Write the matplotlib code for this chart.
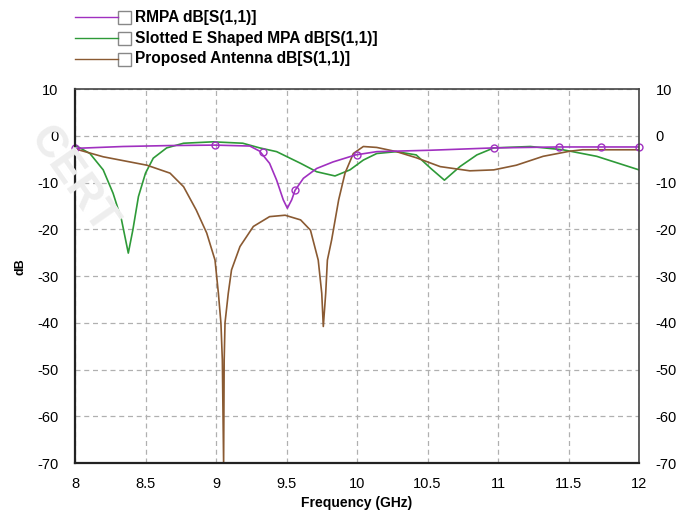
import matplotlib
matplotlib.use("Agg")
import matplotlib.pyplot as plt
from matplotlib.lines import Line2D
from matplotlib.patches import Rectangle

# ---------------------------------------------------------------------------
# data (frequency in GHz, return loss in dB)
# ---------------------------------------------------------------------------
rmpa_f = [8.0, 8.34, 8.67, 8.99, 9.24, 9.31, 9.38, 9.43, 9.477, 9.506, 9.537,
          9.56, 9.62, 9.714, 9.83, 9.99, 10.14, 10.52, 10.97, 11.43, 11.73, 12.0]
rmpa_db = [-2.7, -2.3, -2.1, -2.0, -2.2, -3.3, -5.9, -9.5, -13.7, -15.5, -13.7,
           -11.7, -9.1, -7.0, -5.6, -4.1, -3.4, -3.1, -2.6, -2.4, -2.4, -2.4]
rmpa_mk_f = [8.0, 8.99, 9.33, 9.56, 10.0, 10.97, 11.43, 11.73, 12.0]
rmpa_mk_db = [-2.7, -2.0, -3.4, -11.7, -4.1, -2.6, -2.4, -2.4, -2.4]

slot_f = [8.0, 8.106, 8.2, 8.27, 8.33, 8.378, 8.41, 8.45, 8.5, 8.555, 8.65,
          8.77, 8.98, 9.19, 9.31, 9.43, 9.6, 9.714, 9.844, 9.95, 10.045,
          10.14, 10.28, 10.42, 10.52, 10.62, 10.73, 10.85, 10.97, 11.23,
          11.46, 11.7, 12.0]
slot_db = [-2.0, -3.8, -7.3, -12.3, -18.0, -25.1, -20.2, -13.0, -8.0, -4.8, -2.6,
           -1.6, -1.3, -1.6, -2.6, -3.4, -5.9, -7.7, -8.6, -7.3, -5.2,
           -3.8, -3.4, -4.1, -6.9, -9.5, -6.6, -4.1, -2.6, -2.3,
           -3.0, -4.4, -7.3]

prop_f = [8.0, 8.2, 8.51, 8.674, 8.77, 8.86, 8.934, 8.993, 9.017, 9.035, 9.045,
          9.054, 9.058, 9.064, 9.087, 9.11, 9.17, 9.265, 9.38, 9.49, 9.6, 9.67,
          9.725, 9.75, 9.761, 9.778, 9.79, 9.82, 9.87, 9.915, 9.974, 10.045,
          10.14, 10.28, 10.42, 10.59, 10.8, 10.97, 11.13, 11.32, 11.51, 11.6,
          11.77, 12.0]
prop_db = [-2.8, -4.5, -6.3, -8.0, -10.9, -15.9, -20.8, -26.6, -33.7, -40.1, -48.0,
           -70.0, -48.0, -40.0, -33.7, -28.7, -23.7, -19.4, -17.3, -17.0, -18.0, -20.2,
           -26.6, -33.7, -40.8, -33.7, -26.6, -22.3, -13.7, -8.0, -3.8, -2.3,
           -2.5, -3.4, -4.7, -6.6, -7.5, -7.3, -6.3, -4.4, -3.3, -3.0,
           -3.0, -3.0]

labels = ["RMPA dB[S(1,1)]", "Slotted E Shaped MPA dB[S(1,1)]",
          "Proposed Antenna dB[S(1,1)]"]
x_ticks = [8, 8.5, 9, 9.5, 10, 10.5, 11, 11.5, 12]
y_ticks = [10, 0, -10, -20, -30, -40, -50, -60, -70]

C_RMPA = "#a030c0"
C_SLOT = "#2e9a38"
C_PROP = "#8a5a32"

plt.rcParams["font.family"] = ["Liberation Sans", "DejaVu Sans"]
plt.rcParams["axes.unicode_minus"] = False

fig = plt.figure(figsize=(6.88, 5.16), dpi=100)
ax = fig.add_axes([75 / 688, 1 - 463 / 516, 564 / 688, 374 / 516])

ax.plot(slot_f, slot_db, color=C_SLOT, lw=1.2)
ax.plot(prop_f, prop_db, color=C_PROP, lw=1.2)
ax.plot(rmpa_f, rmpa_db, color=C_RMPA, lw=1.2)
ax.plot(rmpa_mk_f, rmpa_mk_db, ls="none", marker="o", ms=5, mfc="none",
        mec=C_RMPA, mew=1.0, clip_on=False)

ax.set_xlim(8, 12)
ax.set_ylim(-70, 10)
ax.set_xticks(x_ticks)
ax.set_xticklabels([f"{t:g}" for t in x_ticks])
ax.set_yticks(y_ticks)
ax.grid(True, color="#b0b0b0", ls=(0, (4, 3)), lw=0.9)
ax.tick_params(axis="both", length=0, labelsize=10.5)
ax.tick_params(axis="y", right=True, labelright=True, pad=12)
ax.tick_params(axis="x", pad=10)
for side in ["left", "bottom"]:
    ax.spines[side].set_linewidth(1.6)
    ax.spines[side].set_color("#222222")
for side in ["top", "right"]:
    ax.spines[side].set_linewidth(1.2)
    ax.spines[side].set_color("#444444")

ax.set_xlabel("Frequency (GHz)", fontsize=10, fontweight="bold", labelpad=4)
fig.text(20 / 688, 1 - 267 / 516, "dB", rotation=90, fontsize=9,
         fontweight="bold", ha="center", va="center")

# faint watermark at the left edge
fig.text(72 / 688, 1 - 180 / 516, "CERT", rotation=-55, fontsize=32,
         color="#eeeeee", ha="center", va="center", fontweight="bold",
         zorder=0)

# legend drawn like the simulator's checkbox legend
rows_y = [17, 38, 59]
for y, lab, c in zip(rows_y, labels, [C_RMPA, C_SLOT, C_PROP]):
    yf = 1 - y / 516
    fig.add_artist(Line2D([75 / 688, 118 / 688], [yf, yf], color=c, lw=1.0,
                          transform=fig.transFigure))
    fig.add_artist(Rectangle((118 / 688, yf - 7 / 516), 13 / 688, 13 / 516,
                             transform=fig.transFigure, fill=False,
                             edgecolor="#888888", lw=1.0))
    fig.text(135 / 688, yf, lab, fontsize=11.2, fontweight="bold",
             ha="left", va="center")

fig.savefig("out.png", dpi=100)
